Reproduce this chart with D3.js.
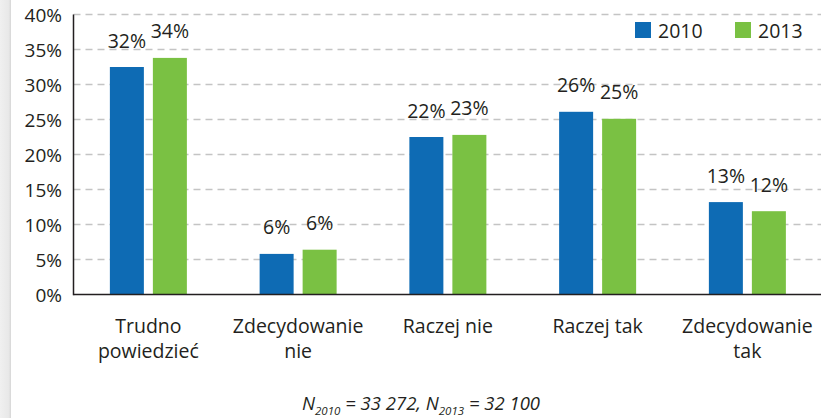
<!DOCTYPE html>
<html><head><meta charset="utf-8">
<script src="https://cdn.jsdelivr.net/npm/d3@7"></script>
<style>
body{margin:0;background:#fff;}
svg{display:block;font-family:"Open Sans",sans-serif;}
</style></head>
<body><svg id="c" width="821" height="418"></svg>
<script>
const categories = [["Trudno","powiedzieć"],["Zdecydowanie","nie"],["Raczej nie"],["Raczej tak"],["Zdecydowanie","tak"]];
const seriesNames = ["2010","2013"];
const values2010 = [32.5, 5.8, 22.5, 26.1, 13.2];
const labels2010 = ["32%","6%","22%","26%","13%"];
const values2013 = [33.8, 6.4, 22.8, 25.1, 11.9];
const labels2013 = ["34%","6%","23%","25%","12%"];
const yTicks = [0,5,10,15,20,25,30,35,40];
const colors = ["#0e6bb4","#7ac143"];

const svg = d3.select("#c");
const ink = "#231f20";

// left gray strip
const grad = svg.append("defs").append("linearGradient").attr("id","g").attr("x1","0").attr("x2","1");
grad.append("stop").attr("offset","0").attr("stop-color","#f0f0f0");
grad.append("stop").attr("offset","0.8").attr("stop-color","#e8e8e8");
grad.append("stop").attr("offset","1").attr("stop-color","#d6d6d6");
svg.append("rect").attr("x",0).attr("y",0).attr("width",11).attr("height",418).attr("fill","url(#g)");

const x0 = 73.5, yTop = 14.5, yBot = 294.5;
const x = d3.scaleBand().domain(d3.range(categories.length)).range([x0, x0 + 149.75*5]).padding(0);
const y = d3.scaleLinear().domain([0,40]).range([yBot, yTop]);

// gridlines
svg.append("g").selectAll("line").data(yTicks.filter(d=>d>0)).join("line")
  .attr("x1",x0).attr("x2",821).attr("y1",d=>y(d)).attr("y2",d=>y(d))
  .attr("stroke","#c4c4c4").attr("stroke-width",1.5).attr("stroke-dasharray","7,5");

// y tick labels
svg.append("g").selectAll("text").data(yTicks).join("text")
  .attr("x",62).attr("y",d=>y(d)+7).attr("text-anchor","end")
  .attr("font-size",19).attr("fill",ink).text(d=>d+"%");

const bw = 34, gap = 9;
const series = [{v:values2010,l:labels2010},{v:values2013,l:labels2013}];
series.forEach((s,si)=>{
  const off = si===0 ? -(gap/2+bw) : gap/2;
  const cx = i => x(i)+x.bandwidth()/2 + off;
  svg.append("g").selectAll("rect").data(s.v).join("rect")
    .attr("x",(d,i)=>cx(i)).attr("width",bw)
    .attr("y",d=>y(d)).attr("height",d=>yBot-y(d)).attr("fill",colors[si]);
  svg.append("g").selectAll("text").data(s.v).join("text")
    .attr("x",(d,i)=>cx(i)+bw/2).attr("y",d=>y(d)-19.5)
    .attr("text-anchor","middle").attr("font-size",19.5).attr("fill",ink)
    .text((d,i)=>s.l[i]);
});

// axes lines
svg.append("line").attr("x1",x0).attr("x2",x0).attr("y1",yTop).attr("y2",yBot+0.75).attr("stroke",ink).attr("stroke-width",1.5);
svg.append("line").attr("x1",x0).attr("x2",821).attr("y1",yBot).attr("y2",yBot).attr("stroke",ink).attr("stroke-width",1.5);

// category labels
const cl = svg.append("g").selectAll("text").data(categories).join("text")
  .attr("text-anchor","middle").attr("font-size",19.5).attr("fill",ink)
  .attr("transform",(d,i)=>`translate(${x(i)+x.bandwidth()/2},332.5)`);
cl.selectAll("tspan").data(d=>d).join("tspan")
  .attr("x",0).attr("dy",(d,i)=>i===0?0:25.5).text(d=>d);

// legend
const lg = svg.append("g");
[[635,658],[735,758]].forEach((p,i)=>{
  lg.append("rect").attr("x",p[0]).attr("y",22).attr("width",16).attr("height",16).attr("fill",colors[i]);
  lg.append("text").attr("x",p[1]).attr("y",37.5).attr("font-size",19.5).attr("fill",ink).text(seriesNames[i]);
});

// footnote
const fn = svg.append("text").attr("x",302).attr("y",410).attr("font-size",18.5).attr("font-style","italic").attr("fill",ink);
fn.append("tspan").text("N");
fn.append("tspan").attr("font-size",11.5).attr("dy",5).text("2010");
fn.append("tspan").attr("dy",-5).text(" = 33 272, N");
fn.append("tspan").attr("font-size",11.5).attr("dy",5).text("2013");
fn.append("tspan").attr("dy",-5).text(" = 32 100");
</script></body></html>
